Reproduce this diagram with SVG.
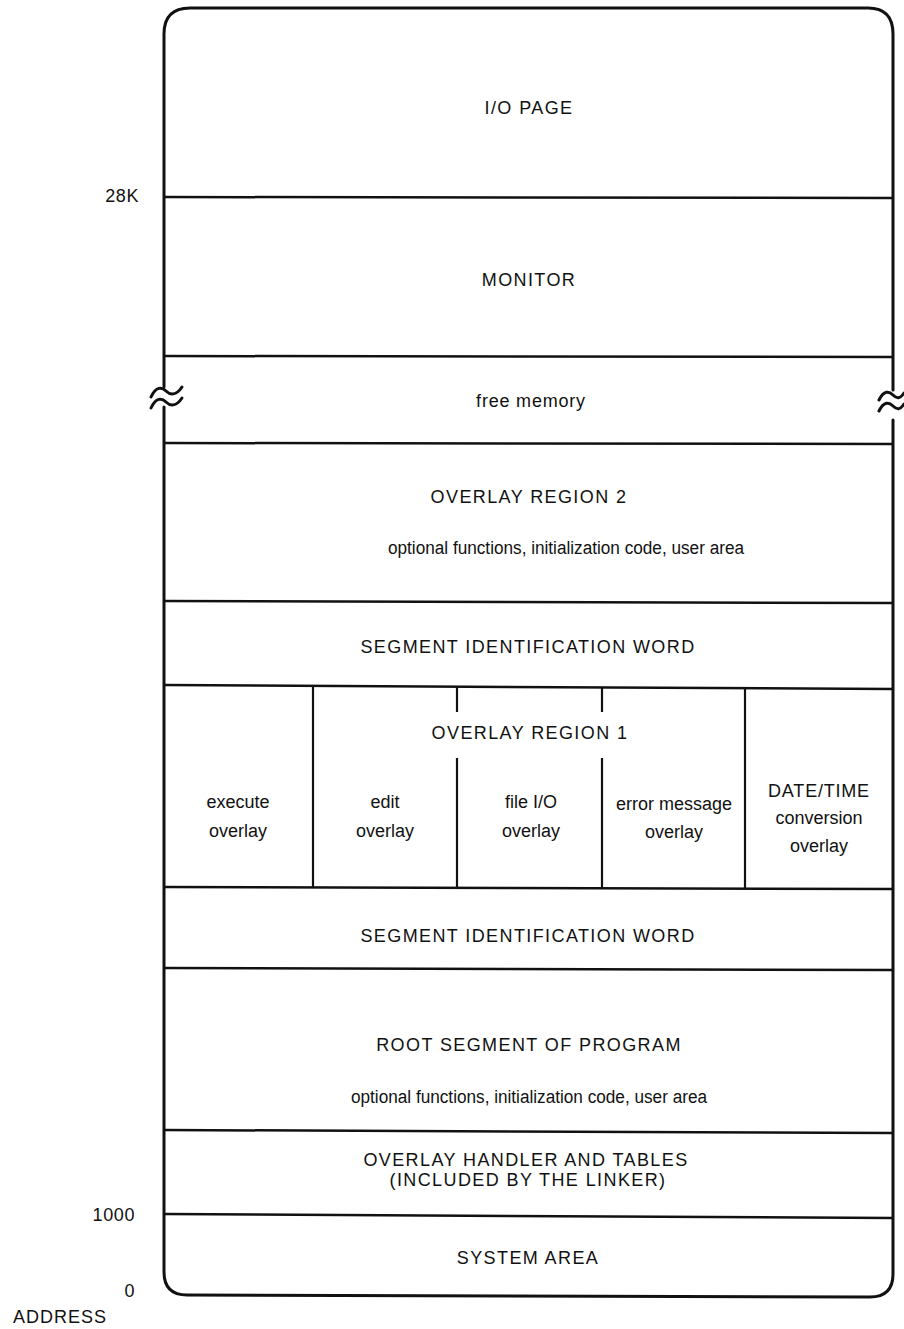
<svg xmlns="http://www.w3.org/2000/svg" width="904" height="1329" viewBox="0 0 904 1329">
  <style>
    .frame { fill: none; stroke: #111; stroke-width: 3; stroke-linecap: round; }
    .rule { stroke: #111; stroke-width: 2.5; fill: none; }
    .div { stroke: #111; stroke-width: 2.2; fill: none; }
    .cap { font-family: "Liberation Sans", Arial, sans-serif; font-size: 18px; letter-spacing: 1.4px; fill: #111; text-anchor: middle; }
    .low { font-family: "Liberation Sans", Arial, sans-serif; font-size: 18px; fill: #111; text-anchor: middle; }
    .addr { font-family: "Liberation Sans", Arial, sans-serif; font-size: 18px; letter-spacing: 0.6px; fill: #111; text-anchor: end; }
  </style>
  <rect width="904" height="1329" fill="#fff"/>

  <!-- outer memory frame, with the break in both sides -->
  <g id="frame">
    <path class="frame" d="M164,387 L164,34 Q164,8 190,8 L868,8 Q893,8 893,34 L893,390"/>
    <path class="frame" d="M164,407 L164,1272 Q164,1295 187,1295 L870,1297 Q893,1297 893,1274 L893,420"/>
    <path class="frame" d="M151,397 C156,386 162,387 166,391 C170,395 176,396 182,387"/>
    <path class="frame" d="M151,408 C156,397 162,398 166,402 C170,406 176,407 182,398"/>
    <path class="frame" d="M879,400 C884,390 889,391 893,395 C897,399 900,399 904,393"/>
    <path class="frame" d="M879,411 C884,401 889,402 893,406 C897,410 900,410 904,404"/>
  </g>

  <!-- region boundaries -->
  <g id="boundaries">
    <line class="rule" x1="164" y1="197" x2="893" y2="198"/>
    <line class="rule" x1="164" y1="356" x2="893" y2="357"/>
    <line class="rule" x1="164" y1="443" x2="893" y2="444"/>
    <line class="rule" x1="164" y1="601" x2="893" y2="603"/>
    <line class="rule" x1="164" y1="685" x2="893" y2="689"/>
    <line class="rule" x1="164" y1="887" x2="893" y2="889"/>
    <line class="rule" x1="164" y1="968" x2="893" y2="970"/>
    <line class="rule" x1="164" y1="1130" x2="893" y2="1133"/>
    <line class="rule" x1="164" y1="1214" x2="893" y2="1218"/>
  </g>

  <!-- overlay region 1 partitions -->
  <g id="overlay-partitions">
    <line class="div" x1="313" y1="686" x2="313" y2="887"/>
    <line class="div" x1="457" y1="686" x2="457" y2="712"/>
    <line class="div" x1="457" y1="758" x2="457" y2="887"/>
    <line class="div" x1="602" y1="687" x2="602" y2="712"/>
    <line class="div" x1="602" y1="758" x2="602" y2="888"/>
    <line class="div" x1="745" y1="688" x2="745" y2="888"/>
  </g>

  <g id="io-page"><text class="cap" x="529" y="114">I/O PAGE</text></g>
  <g id="monitor"><text class="cap" x="529" y="286">MONITOR</text></g>
  <g id="free-memory"><text class="low" x="531" y="407" style="letter-spacing:0.8px">free memory</text></g>
  <g id="overlay-region-2">
    <text class="cap" x="529" y="503">OVERLAY REGION 2</text>
    <text class="low" x="566" y="554" textLength="356" lengthAdjust="spacingAndGlyphs">optional functions, initialization code, user area</text>
  </g>
  <g id="segment-id-upper"><text class="cap" x="528" y="653">SEGMENT IDENTIFICATION WORD</text></g>
  <g id="overlay-region-1">
    <text class="cap" x="530" y="739">OVERLAY REGION 1</text>
  </g>
  <g id="execute-overlay">
    <text class="low" x="238" y="808">execute</text>
    <text class="low" x="238" y="837">overlay</text>
  </g>
  <g id="edit-overlay">
    <text class="low" x="385" y="808">edit</text>
    <text class="low" x="385" y="837">overlay</text>
  </g>
  <g id="file-io-overlay">
    <text class="low" x="531" y="808">file I/O</text>
    <text class="low" x="531" y="837">overlay</text>
  </g>
  <g id="error-message-overlay">
    <text class="low" x="674" y="810">error message</text>
    <text class="low" x="674" y="838">overlay</text>
  </g>
  <g id="date-time-overlay">
    <text class="cap" x="819" y="797" style="letter-spacing:0.8px">DATE/TIME</text>
    <text class="low" x="819" y="824">conversion</text>
    <text class="low" x="819" y="852">overlay</text>
  </g>
  <g id="segment-id-lower"><text class="cap" x="528" y="942">SEGMENT IDENTIFICATION WORD</text></g>
  <g id="root-segment">
    <text class="cap" x="529" y="1051">ROOT SEGMENT OF PROGRAM</text>
    <text class="low" x="529" y="1103" textLength="356" lengthAdjust="spacingAndGlyphs">optional functions, initialization code, user area</text>
  </g>
  <g id="overlay-handler">
    <text class="cap" x="526" y="1166">OVERLAY HANDLER AND TABLES</text>
    <text class="cap" x="528" y="1186">(INCLUDED BY THE LINKER)</text>
  </g>
  <g id="system-area"><text class="cap" x="528" y="1264">SYSTEM AREA</text></g>

  <!-- address scale -->
  <g id="address-scale">
    <text class="addr" x="139" y="202">28K</text>
    <text class="addr" x="135" y="1221">1000</text>
    <text class="addr" x="135" y="1297">0</text>
    <text class="addr" x="13" y="1323" style="text-anchor:start;letter-spacing:1px">ADDRESS</text>
  </g>
</svg>
